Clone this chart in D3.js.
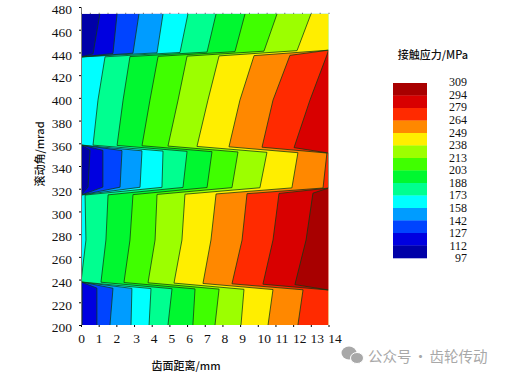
<!DOCTYPE html>
<html>
<head>
<meta charset="utf-8">
<script src="https://cdn.jsdelivr.net/npm/d3@7"></script>
<style>
  html, body { margin: 0; padding: 0; background: #fff; }
  text { fill: #111; }
  .serif { font-family: "Liberation Serif", serif; font-size: 13px; }
  .cjk { font-family: "Noto Sans CJK SC", sans-serif; font-size: 11px; font-weight: 500; }
</style>
</head>
<body>
<svg id="chart" width="506" height="377"></svg>
<script>
// legend values, top to bottom
const legendLabels = ["309", "294", "279", "264", "249", "238", "213", "203", "188", "173", "158", "142", "127", "112", "97"];
// band colours, low to high stress
const bandColors = ["#0000a8", "#0000e0", "#0044ff", "#009cff", "#00ffff", "#00ff90", "#00f830", "#40ff00", "#9cff00", "#ffee00", "#ff8800", "#ff2a00", "#d80000", "#a80000"];

// slip angle (mrad) of each row where the contours cross, at tooth distance 0 and 14
const rowAngle0 = [474, 438.6, 436, 398, 358.5, 354, 321.5, 314.4, 274.8, 237.9, 232.6, 200];
const rowAngle14 = [474, 442, 437.7, 398, 355.8, 351.4, 320.6, 316.2, 274.8, 235.2, 230.8, 200];

// tooth distance (mm) of the 13 contours, one line per row
const contourRows = [
  [1.07, 2.04, 3.28, 4.64, 6.05, 7.64, 9.28, 11.09, 13.01, 14, 14, 14, 14],
  [0.68, 1.81, 2.94, 4.30, 5.60, 7.13, 8.71, 10.35, 12.22, 14, 14, 14, 14],
  [0, 0, 0, 0, 1.36, 2.77, 4.36, 6.00, 7.81, 9.79, 11.82, 13.91, 14],
  [0, 0, 0, 0, 0.96, 2.38, 3.90, 5.49, 7.18, 8.99, 10.86, 12.95, 14],
  [0, 0, 0, 0, 0.68, 2.04, 3.45, 4.92, 6.56, 8.37, 10.24, 12.05, 14],
  [0.51, 1.24, 2.32, 3.45, 4.64, 6.00, 7.41, 8.88, 10.52, 12.27, 13.91, 14, 14],
  [0.40, 1.24, 2.21, 3.34, 4.58, 5.77, 7.13, 8.54, 10.12, 11.93, 13.69, 14, 14],
  [0, 0, 0, 0, 0.23, 1.53, 2.94, 4.30, 5.88, 7.64, 9.39, 11.20, 13.12],
  [0, 0, 0, 0, 0.28, 1.41, 2.77, 4.19, 5.71, 7.35, 9.11, 10.86, 12.73],
  [0, 0, 0, 0, 0, 1.13, 2.43, 3.79, 5.26, 6.90, 8.54, 10.29, 12.10],
  [0.06, 0.90, 1.81, 2.88, 3.96, 5.15, 6.45, 7.81, 9.22, 10.86, 12.56, 14, 14],
  [0.06, 0.90, 1.64, 2.83, 3.85, 4.92, 6.33, 7.58, 9.05, 10.58, 12.27, 14, 14]
];

const svg = d3.select("#chart");

const x = d3.scaleLinear().domain([0, 14]).range([81, 328.5]);
const y = d3.scaleLinear().domain([200, 480]).range([325, 7]);
const plotTop = rowAngle0[0];

// the strip edges slope a little, so the angle depends on where along the row we are
function angleAt(rowIndex, dist) {
  return rowAngle0[rowIndex] + (rowAngle14[rowIndex] - rowAngle0[rowIndex]) * dist / 14;
}

// contour as list of [dist, angle]
const contours = d3.range(13).map((c) =>
  contourRows.map((row, r) => [row[c], angleAt(r, row[c])])
);

const line = d3.line().x((d) => x(d[0])).y((d) => y(d[1]));

// same line, but skip the stretches that just run along the plot edge
const onEdge = (d) => d && (d[0] === 0 || d[0] === 14);
const contourLine = d3.line()
  .defined((d, i, arr) => !(onEdge(d) && (i === 0 || onEdge(arr[i - 1])) && (i === arr.length - 1 || onEdge(arr[i + 1]))))
  .x((d) => x(d[0]))
  .y((d) => y(d[1]));

svg.append("defs").append("clipPath").attr("id", "plot-clip")
  .append("rect")
  .attr("x", x(0))
  .attr("y", y(plotTop))
  .attr("width", x(14) - x(0))
  .attr("height", y(200) - y(plotTop));

const plot = svg.append("g")
  .attr("clip-path", "url(#plot-clip)")
  .style("filter", "blur(0.35px)");

// paint low to high, each band covers everything right of its contour
plot.append("path")
  .attr("d", line([[0, plotTop], [14, plotTop], [14, 200], [0, 200]]) + "Z")
  .attr("fill", bandColors[0]);

plot.selectAll("path.band")
  .data(contours)
  .join("path")
  .attr("class", "band")
  .attr("d", (d) => line([...d, [14, 200], [14, plotTop]]) + "Z")
  .attr("fill", (d, i) => bandColors[i + 1]);

plot.selectAll("path.contour")
  .data(contours)
  .join("path")
  .attr("class", "contour")
  .attr("d", contourLine)
  .attr("fill", "none")
  .attr("stroke", "#0f3a12")
  .attr("stroke-width", 0.9)
  .attr("stroke-opacity", 0.85);

// axes
const yAxis = svg.append("g")
  .attr("class", "serif")
  .attr("transform", `translate(${x(0)},0)`)
  .call(d3.axisLeft(y).tickValues(d3.range(200, 481, 20)).tickSize(2).tickPadding(7));
yAxis.select(".domain").attr("stroke", "#777").attr("stroke-width", 1);
yAxis.selectAll("text").attr("dy", "0.5em").style("font-size", "13.5px");

const xAxis = svg.append("g")
  .attr("class", "serif")
  .attr("transform", `translate(0,${y(200)})`)
  .call(d3.axisBottom(x).tickValues(d3.range(0, 15)).tickSize(2).tickPadding(6));
xAxis.select(".domain").remove();
xAxis.selectAll("text")
  .attr("dx", (d) => (d >= 10 ? 6 : d > 2 ? 2 : 0))
  .style("font-size", "13.5px");

// small ticks along the top edge
const topAxis = svg.append("g")
  .attr("transform", `translate(0,${y(plotTop)})`)
  .call(d3.axisTop(x).ticks(28).tickSize(1).tickFormat(""));
topAxis.select(".domain").remove();
topAxis.selectAll("line").attr("stroke", "#555");

// axis titles
svg.append("text")
  .attr("class", "cjk")
  .attr("x", 186)
  .attr("y", 370)
  .attr("text-anchor", "middle")
  .text("齿面距离/mm");

svg.append("text")
  .attr("class", "cjk")
  .attr("transform", "translate(44,154) rotate(-90)")
  .attr("text-anchor", "middle")
  .text("滚动角/mrad");

// legend
const legendBand = d3.scaleBand()
  .domain(d3.range(13, -1, -1))
  .range([83, 258]);

svg.append("g").selectAll("rect")
  .data(d3.range(13, -1, -1))
  .join("rect")
  .attr("x", 393)
  .attr("y", (d) => legendBand(d))
  .attr("width", 34)
  .attr("height", legendBand.bandwidth() + 0.3)
  .attr("fill", (d) => bandColors[d]);

const legendY = d3.scalePoint().domain(legendLabels).range([82, 258]);

svg.append("g").attr("class", "serif").selectAll("text")
  .data(legendLabels)
  .join("text")
  .attr("x", 467)
  .attr("y", (d) => legendY(d))
  .attr("dy", "0.36em")
  .attr("text-anchor", "end")
  .style("font-size", "12px")
  .text((d) => d);

svg.append("text")
  .attr("class", "cjk")
  .attr("x", 433)
  .attr("y", 59)
  .attr("text-anchor", "middle")
  .text("接触应力/MPa");

// watermark
const mark = svg.append("g").attr("fill", "#a8a8a8");
mark.append("ellipse").attr("cx", 349).attr("cy", 353).attr("rx", 7.5).attr("ry", 6.5);
mark.append("ellipse").attr("cx", 357).attr("cy", 358).attr("rx", 6.5).attr("ry", 5.5).attr("stroke", "#fff");

svg.append("text")
  .attr("x", 368)
  .attr("y", 362)
  .style("font-family", '"Noto Sans CJK SC", sans-serif')
  .style("font-size", "14.5px")
  .style("word-spacing", "-1.5px")
  .style("fill", "#a8a8a8")
  .text("公众号 · 齿轮传动");
</script>
</body>
</html>
